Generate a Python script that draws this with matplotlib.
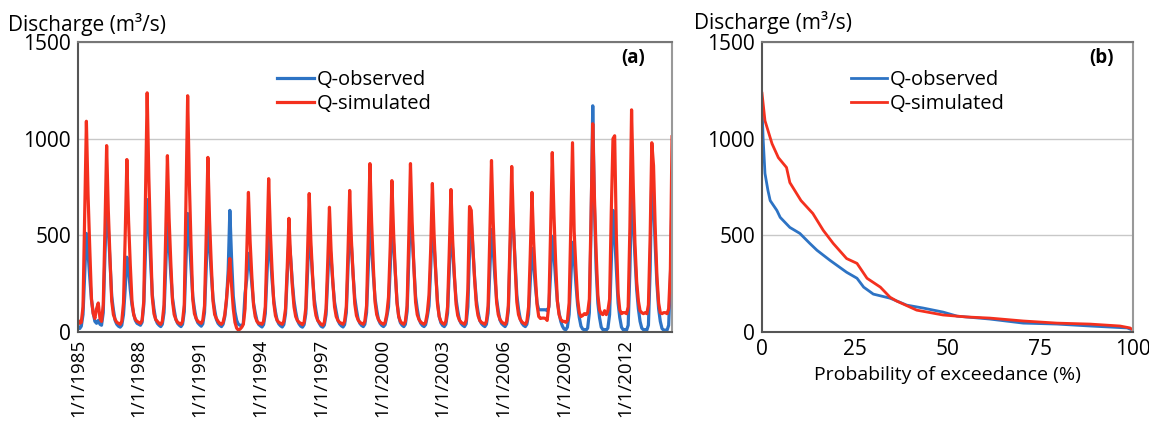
import numpy as np
import pandas as pd
import matplotlib
matplotlib.use("Agg")
import matplotlib.pyplot as plt

plt.rcParams["font.family"] = ["Open Sans", "DejaVu Sans"]
plt.rcParams["font.size"] = 14.5

# monthly discharge (m3/s), Jan 1985 - May 2014, one year per line
q_sim = [
    60, 45, 50, 130, 600, 1090, 710, 430, 170, 95, 70, 120,      # 1985
    150, 70, 55, 140, 530, 964, 630, 380, 160, 90, 65, 50,       # 1986
    45, 40, 55, 150, 490, 892, 580, 350, 160, 90, 65, 55,        # 1987
    50, 45, 60, 160, 680, 1237, 800, 470, 180, 95, 65, 55,       # 1988
    45, 40, 55, 140, 500, 912, 590, 360, 160, 90, 65, 50,        # 1989
    45, 40, 55, 140, 660, 1222, 780, 450, 170, 95, 70, 55,       # 1990
    50, 45, 60, 135, 490, 903, 580, 350, 160, 90, 70, 55,        # 1991
    45, 40, 50, 90, 170, 270, 380, 240, 120, 50, 20, 10,         # 1992
    15, 25, 40, 120, 400, 722, 470, 290, 140, 80, 55, 45,        # 1993
    45, 40, 55, 130, 440, 793, 520, 320, 150, 85, 60, 50,        # 1994
    45, 40, 55, 120, 330, 588, 390, 240, 130, 80, 60, 50,        # 1995
    45, 38, 50, 125, 400, 716, 470, 290, 140, 85, 60, 50,        # 1996
    40, 35, 50, 120, 360, 645, 420, 260, 130, 80, 60, 50,        # 1997
    45, 40, 55, 130, 410, 732, 480, 300, 145, 85, 62, 50,        # 1998
    45, 40, 55, 135, 480, 871, 570, 340, 155, 90, 65, 52,        # 1999
    45, 40, 50, 95, 180, 440, 783, 510, 310, 150, 80, 55,        # 2000
    45, 40, 55, 135, 480, 871, 570, 340, 155, 90, 65, 52,        # 2001
    45, 40, 50, 100, 190, 430, 768, 500, 300, 145, 80, 55,       # 2002
    45, 40, 55, 130, 410, 737, 480, 300, 145, 85, 62, 50,        # 2003
    45, 40, 60, 220, 649, 629, 430, 270, 140, 85, 60, 50,        # 2004
    45, 40, 55, 135, 490, 887, 580, 350, 155, 90, 65, 52,        # 2005
    45, 40, 55, 135, 470, 856, 560, 340, 155, 90, 65, 52,        # 2006
    45, 40, 55, 130, 400, 722, 470, 290, 140, 80, 70, 72,        # 2007
    72, 70, 60, 140, 510, 928, 610, 360, 160, 90, 65, 55,        # 2008
    55, 50, 60, 150, 540, 979, 520, 330, 170, 100, 80, 85,       # 2009
    95, 90, 100, 170, 590, 1077, 700, 410, 190, 115, 95, 90,     # 2010
    110, 90, 110, 170, 620, 1000, 1015, 490, 200, 115, 95, 100,  # 2011
    100, 95, 130, 540, 1149, 750, 460, 260, 160, 110, 100, 95,   # 2012
    100, 95, 140, 490, 979, 860, 540, 290, 150, 100, 95, 100,    # 2013
    100, 95, 120, 320, 1010,                                     # 2014
]
q_obs = [
    30, 18, 30, 90, 300, 510, 410, 280, 165, 100, 55, 45,        # 1985
    60, 40, 35, 100, 390, 670, 540, 360, 185, 115, 60, 40,       # 1986
    30, 25, 35, 90, 220, 387, 320, 220, 140, 95, 60, 45,         # 1987
    40, 35, 50, 140, 400, 685, 560, 370, 195, 120, 65, 45,       # 1988
    35, 28, 40, 100, 330, 562, 450, 300, 175, 115, 65, 45,       # 1989
    35, 28, 40, 105, 360, 613, 490, 330, 185, 120, 70, 48,       # 1990
    38, 30, 42, 100, 320, 560, 450, 300, 175, 115, 65, 45,       # 1991
    35, 28, 40, 80, 160, 320, 629, 380, 185, 105, 60, 40,        # 1992
    35, 30, 45, 200, 270, 407, 350, 250, 150, 100, 60, 40,       # 1993
    32, 26, 38, 95, 300, 500, 410, 270, 165, 105, 60, 42,        # 1994
    32, 26, 38, 95, 290, 480, 390, 260, 160, 105, 60, 42,        # 1995
    30, 25, 38, 95, 310, 520, 420, 280, 170, 110, 62, 44,        # 1996
    30, 25, 36, 90, 280, 470, 380, 255, 155, 105, 60, 42,        # 1997
    32, 26, 38, 100, 330, 560, 450, 300, 175, 115, 65, 45,       # 1998
    34, 28, 40, 100, 320, 550, 440, 295, 175, 115, 65, 45,       # 1999
    34, 28, 38, 80, 130, 330, 560, 450, 300, 160, 80, 48,        # 2000
    35, 28, 40, 105, 370, 630, 500, 340, 185, 120, 68, 46,       # 2001
    34, 28, 38, 80, 135, 330, 560, 450, 300, 160, 80, 48,        # 2002
    34, 28, 40, 98, 310, 530, 430, 285, 170, 110, 62, 44,        # 2003
    34, 28, 42, 130, 420, 580, 430, 280, 165, 105, 60, 44,       # 2004
    34, 28, 40, 98, 310, 530, 430, 285, 170, 110, 62, 44,        # 2005
    35, 28, 42, 110, 400, 680, 540, 360, 190, 120, 68, 46,       # 2006
    34, 28, 40, 90, 260, 433, 350, 240, 150, 115, 115, 115,      # 2007
    115, 115, 110, 130, 300, 495, 400, 270, 160, 100, 55, 30,    # 2008
    15, 12, 25, 90, 280, 464, 380, 250, 140, 75, 30, 15,         # 2009
    12, 10, 20, 100, 540, 1170, 650, 330, 150, 75, 25, 12,       # 2010
    12, 10, 20, 90, 350, 629, 500, 320, 150, 75, 25, 12,         # 2011
    12, 10, 35, 320, 720, 570, 390, 220, 120, 55, 20, 12,        # 2012
    12, 10, 35, 320, 820, 680, 450, 250, 120, 55, 18, 10,        # 2013
    10, 10, 35, 270, 720,                                        # 2014
]
tick_years = [1985, 1988, 1991, 1994, 1997, 2000, 2003, 2006, 2009, 2012]
tick_labels = [f"1/1/{y}" for y in tick_years]

# flow duration curves
fdc_pct_sim = [0, 0.8, 2.7, 4.4, 6.6, 7.5, 10.5, 13.7, 16.5, 19.2, 22.8, 25.6, 28.3,
               31.9, 34.5, 36.3, 41.7, 48.8, 55, 61.4, 70.4, 79.5, 88.4, 96.5, 99.2, 100]
fdc_sim = [1235, 1093, 974, 902, 851, 773, 680, 613, 526, 458, 380, 355, 278,
           232, 180, 160, 113, 88, 78, 72, 57, 46, 41, 31, 21, 10]
fdc_pct_obs = [0, 0.3, 0.8, 1.6, 2.2, 4.0, 4.9, 7.5, 10.2, 12.9, 14.8, 18.3, 22.8, 25.6,
               27.4, 30, 34.5, 39, 43.4, 48.8, 52.6, 61.4, 70.4, 79.5, 88.4, 98.4, 99.2]
fdc_obs = [1170, 1000, 820, 732, 680, 629, 593, 541, 510, 458, 423, 371, 309, 278,
           232, 196, 175, 139, 124, 103, 82, 67, 46, 41, 31, 21, 15]

c_obs = "#2d73c4"
c_sim = "#f4301e"

dates = pd.date_range("1985-01-01", periods=len(q_sim), freq="MS")

fig = plt.figure(figsize=(11.49, 4.21), dpi=100)
ax1 = fig.add_axes([0.0679, 0.2114, 0.5170, 0.6888])
ax2 = fig.add_axes([0.6632, 0.2114, 0.3229, 0.6888])


def style_axes(ax):
    ax.set_ylim(0, 1500)
    ax.set_yticks([0, 500, 1000, 1500])
    ax.grid(axis="y", color="#c8c8c8", lw=1)
    ax.set_axisbelow(True)
    ax.tick_params(length=0, pad=5, labelsize=15)
    ax.spines["left"].set_color("#555555")
    ax.spines["bottom"].set_color("#555555")
    ax.spines["top"].set_color("#777777")
    ax.spines["right"].set_color("#999999")
    for s in ax.spines.values():
        s.set_linewidth(1.5)


leg_kw = dict(loc="upper left", frameon=False, handlelength=1.8,
              handletextpad=0.15, labelspacing=0.2)

# (a) time series
ax1.plot(dates, q_obs, color=c_obs, lw=2.3, label="Q-observed")
ax1.plot(dates, q_sim, color=c_sim, lw=2.3, label="Q-simulated")
style_axes(ax1)
ax1.set_xlim(dates[0], dates[-1])
ax1.set_xticks(pd.to_datetime([f"{y}-01-01" for y in tick_years]))
ax1.set_xticklabels(tick_labels, rotation=90)
ax1.tick_params(axis="x", labelsize=13.5)
ax1.legend(bbox_to_anchor=(0.305, 0.965), **leg_kw)
ax1.text(0.934, 0.945, "(a)", transform=ax1.transAxes, ha="center", va="center",
         fontweight="bold", fontsize=13.5)

# (b) flow duration curve
ax2.plot(fdc_pct_obs, fdc_obs, color=c_obs, lw=2, label="Q-observed")
ax2.plot(fdc_pct_sim, fdc_sim, color=c_sim, lw=2, label="Q-simulated")
style_axes(ax2)
ax2.set_xlim(0, 100)
ax2.set_xticks([0, 25, 50, 75, 100])
ax2.set_xlabel("Probability of exceedance (%)", labelpad=4, fontsize=14)
ax2.legend(bbox_to_anchor=(0.19, 0.965), **leg_kw)
ax2.text(0.914, 0.945, "(b)", transform=ax2.transAxes, ha="center", va="center",
         fontweight="bold", fontsize=13.5)

fig.text(8 / 1149, 1 - 24 / 421, "Discharge (m³/s)", ha="left", va="center", fontsize=15)
fig.text(694 / 1149, 1 - 22 / 421, "Discharge (m³/s)", ha="left", va="center", fontsize=15)

fig.savefig("out.png", dpi=100)
